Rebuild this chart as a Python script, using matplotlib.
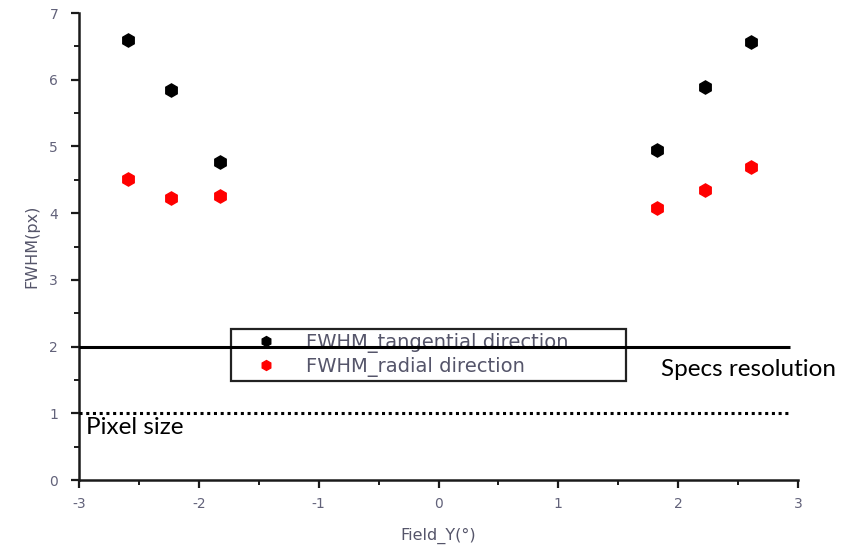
import matplotlib
matplotlib.use('Agg')
import matplotlib.pyplot as plt
from matplotlib.ticker import MultipleLocator

# === Data ===
field_y = [-2.59, -2.23, -1.82, 1.82, 2.22, 2.61]
fwhm_tangential = [6.60, 5.84, 4.77, 4.94, 5.89, 6.57]
fwhm_radial = [4.51, 4.23, 4.26, 4.08, 4.34, 4.69]

spec_resolution = 2.0
pixel_size = 1.0
ref_line_end = 2.93

TICK_GREY = '#62627a'
TEXT_GREY = '#55556a'

plt.rcParams.update({
    'font.family': ['DejaVu Sans'],
    'font.size': 9,
    'axes.unicode_minus': False,
})

fig = plt.figure(figsize=(8.56, 5.52), dpi=100, facecolor='white')
ax = fig.add_axes([0.0923, 0.1304, 0.8400, 0.8460])

ax.plot(field_y, fwhm_tangential, linestyle='none', marker='h', color='black',
        markersize=9.5, label='FWHM_tangential direction', zorder=3)
ax.plot(field_y, fwhm_radial, linestyle='none', marker='h', color='red',
        markersize=9.5, label='FWHM_radial direction', zorder=3)

ax.set_xlim(-3, 3)
ax.set_ylim(0, 7)
ax.xaxis.set_major_locator(MultipleLocator(1))
ax.xaxis.set_minor_locator(MultipleLocator(0.5))
ax.yaxis.set_major_locator(MultipleLocator(1))
ax.yaxis.set_minor_locator(MultipleLocator(0.5))

for s in ['top', 'right']:
    ax.spines[s].set_visible(False)
for s in ['left', 'bottom']:
    ax.spines[s].set_linewidth(1.8)
    ax.spines[s].set_color('#1a1a1a')
ax.tick_params(which='major', direction='out', length=6, width=1.6,
               color='#1a1a1a', labelsize=10, labelcolor=TICK_GREY)
ax.tick_params(axis='y', which='major', pad=9)
ax.tick_params(axis='x', which='major', pad=6)
ax.tick_params(which='minor', direction='out', length=3.5, width=1.4, color='#1a1a1a')

ax.set_xlabel('Field_Y(°)', fontsize=11.5, color=TEXT_GREY, labelpad=12)
ax.set_ylabel('FWHM(px)', fontsize=11.5, color=TEXT_GREY, labelpad=7)

leg = ax.legend(loc='lower left', bbox_to_anchor=(0.270, 0.310, 0.461, 0.107),
                bbox_transform=fig.transFigure, mode='expand', borderaxespad=0,
                fontsize=14, frameon=True, fancybox=False, framealpha=1,
                edgecolor='#222222', handlelength=3.2, handletextpad=0.45,
                borderpad=0.2, labelspacing=0.2, markerscale=0.75)
leg.get_frame().set_linewidth(1.6)
for t in leg.get_texts():
    t.set_color(TEXT_GREY)
leg.set_zorder(4)

# reference lines drawn over the legend
ax.hlines(spec_resolution, -3, ref_line_end, colors='black', linewidth=2.2,
          zorder=6, clip_on=False)
ax.hlines(pixel_size, -3, ref_line_end, colors='black', linewidth=2.2,
          linestyles=(0, (1, 1.2)), zorder=6, clip_on=False)

ax.text(1.86, 1.82, 'Specs resolution', fontsize=17.5,
        family=['Lato', 'DejaVu Sans'], color='black', va='top', ha='left')
ax.text(-2.94, 0.95, 'Pixel size', fontsize=17.5,
        family=['Lato', 'DejaVu Sans'], color='black', va='top', ha='left')

fig.savefig('out.png', dpi=100, facecolor='white')
